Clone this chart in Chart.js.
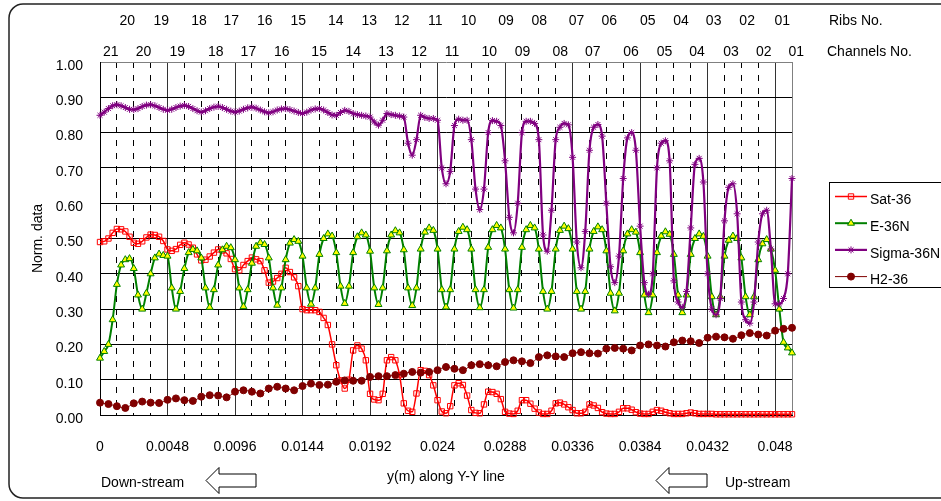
<!DOCTYPE html>
<html lang="en">
<head>
  <meta charset="UTF-8" />
  <title>Norm. data along Y-Y line</title>
  <script src="https://cdn.jsdelivr.net/npm/chart.js"></script>
  <style>
    html, body { margin: 0; padding: 0; background: #fff; overflow: hidden; }
    #wrap { width: 941px; height: 501px; }
  </style>
</head>
<body>
  <div id="wrap"><canvas id="chart" width="941" height="501"></canvas></div>
  <script>
    // positions along the Y-Y line (m)
    const yPos = [
      0, 0.0003, 0.0006, 0.0009, 0.0012, 0.0015, 0.0018, 0.0021,
      0.0024, 0.0027, 0.0030, 0.0033, 0.0036, 0.0039, 0.0042, 0.0045,
      0.0048, 0.0051, 0.0054, 0.0057, 0.0060, 0.0063, 0.0066, 0.0069,
      0.0072, 0.0075, 0.0078, 0.0081, 0.0084, 0.0087, 0.0090, 0.0093,
      0.0096, 0.0099, 0.0102, 0.0105, 0.0108, 0.0111, 0.0114, 0.0117,
      0.0120, 0.0123, 0.0126, 0.0129, 0.0132, 0.0135, 0.0138, 0.0141,
      0.0144, 0.0147, 0.0150, 0.0153, 0.0156, 0.0159, 0.0162, 0.0165,
      0.0168, 0.0171, 0.0174, 0.0177, 0.0180, 0.0183, 0.0186, 0.0189,
      0.0192, 0.0195, 0.0198, 0.0201, 0.0204, 0.0207, 0.0210, 0.0213,
      0.0216, 0.0219, 0.0222, 0.0225, 0.0228, 0.0231, 0.0234, 0.0237,
      0.0240, 0.0243, 0.0246, 0.0249, 0.0252, 0.0255, 0.0258, 0.0261,
      0.0264, 0.0267, 0.0270, 0.0273, 0.0276, 0.0279, 0.0282, 0.0285,
      0.0288, 0.0291, 0.0294, 0.0297, 0.0300, 0.0303, 0.0306, 0.0309,
      0.0312, 0.0315, 0.0318, 0.0321, 0.0324, 0.0327, 0.0330, 0.0333,
      0.0336, 0.0339, 0.0342, 0.0345, 0.0348, 0.0351, 0.0354, 0.0357,
      0.0360, 0.0363, 0.0366, 0.0369, 0.0372, 0.0375, 0.0378, 0.0381,
      0.0384, 0.0387, 0.0390, 0.0393, 0.0396, 0.0399, 0.0402, 0.0405,
      0.0408, 0.0411, 0.0414, 0.0417, 0.0420, 0.0423, 0.0426, 0.0429,
      0.0432, 0.0435, 0.0438, 0.0441, 0.0444, 0.0447, 0.0450, 0.0453,
      0.0456, 0.0459, 0.0462, 0.0465, 0.0468, 0.0471, 0.0474, 0.0477,
      0.0480, 0.0483, 0.0486, 0.0489, 0.0492
    ];

    const satVals = [
      0.490, 0.492, 0.500, 0.516, 0.527, 0.526, 0.520, 0.505,
      0.488, 0.485, 0.492, 0.503, 0.511, 0.510, 0.505, 0.493,
      0.469, 0.465, 0.470, 0.482, 0.488, 0.483, 0.474, 0.455,
      0.438, 0.440, 0.449, 0.460, 0.469, 0.466, 0.458, 0.442,
      0.413, 0.410, 0.425, 0.436, 0.446, 0.441, 0.436, 0.410,
      0.375, 0.378, 0.388, 0.400, 0.417, 0.405, 0.390, 0.365,
      0.300, 0.297, 0.297, 0.297, 0.292, 0.275, 0.255, 0.200,
      0.141, 0.098, 0.075, 0.100, 0.183, 0.197, 0.188, 0.155,
      0.060, 0.044, 0.042, 0.060, 0.155, 0.164, 0.155, 0.113,
      0.033, 0.012, 0.009, 0.061, 0.127, 0.125, 0.113, 0.084,
      0.042, 0.010, 0.005, 0.025, 0.084, 0.090, 0.085, 0.055,
      0.014, 0.006, 0.005, 0.030, 0.066, 0.065, 0.060, 0.045,
      0.009, 0.004, 0.003, 0.012, 0.042, 0.042, 0.032, 0.018,
      0.007, 0.003, 0.003, 0.012, 0.033, 0.035, 0.030, 0.022,
      0.014, 0.005, 0.005, 0.009, 0.030, 0.027, 0.020, 0.008,
      0.004, 0.003, 0.003, 0.009, 0.019, 0.019, 0.015, 0.008,
      0.004, 0.003, 0.003, 0.009, 0.014, 0.012, 0.008, 0.005,
      0.003, 0.003, 0.003, 0.005, 0.007, 0.005, 0.003, 0.003,
      0.003, 0.003, 0.002, 0.002, 0.002, 0.002, 0.002, 0.002,
      0.002, 0.002, 0.002, 0.002, 0.002, 0.002, 0.002, 0.002,
      0.002, 0.002, 0.002, 0.002, 0.002
    ];

    const eVals = [
      0.161, 0.180, 0.200, 0.270, 0.370, 0.425, 0.440, 0.443,
      0.415, 0.340, 0.300, 0.345, 0.400, 0.445, 0.456, 0.452,
      0.450, 0.360, 0.300, 0.350, 0.415, 0.460, 0.469, 0.465,
      0.445, 0.360, 0.305, 0.355, 0.425, 0.468, 0.478, 0.474,
      0.440, 0.360, 0.307, 0.355, 0.430, 0.478, 0.488, 0.483,
      0.445, 0.360, 0.311, 0.360, 0.440, 0.487, 0.497, 0.492,
      0.450, 0.360, 0.314, 0.360, 0.455, 0.500, 0.513, 0.507,
      0.460, 0.365, 0.316, 0.365, 0.460, 0.505, 0.516, 0.510,
      0.464, 0.360, 0.313, 0.360, 0.465, 0.510, 0.522, 0.516,
      0.468, 0.360, 0.310, 0.360, 0.470, 0.518, 0.530, 0.523,
      0.470, 0.355, 0.306, 0.355, 0.470, 0.520, 0.532, 0.525,
      0.470, 0.355, 0.304, 0.355, 0.475, 0.525, 0.537, 0.530,
      0.470, 0.355, 0.303, 0.355, 0.475, 0.525, 0.537, 0.530,
      0.470, 0.350, 0.300, 0.350, 0.470, 0.523, 0.535, 0.528,
      0.470, 0.350, 0.300, 0.350, 0.470, 0.520, 0.533, 0.525,
      0.465, 0.345, 0.295, 0.345, 0.465, 0.513, 0.525, 0.518,
      0.460, 0.340, 0.290, 0.340, 0.460, 0.507, 0.519, 0.512,
      0.455, 0.340, 0.290, 0.340, 0.455, 0.500, 0.513, 0.506,
      0.450, 0.335, 0.284, 0.335, 0.450, 0.495, 0.507, 0.500,
      0.445, 0.335, 0.284, 0.335, 0.440, 0.485, 0.497, 0.470,
      0.410, 0.300, 0.206, 0.190, 0.176
    ];

    const sigmaVals = [
      0.849, 0.858, 0.868, 0.876, 0.879, 0.876, 0.871, 0.866,
      0.865, 0.868, 0.874, 0.878, 0.879, 0.876, 0.871, 0.866,
      0.863, 0.866, 0.871, 0.875, 0.877, 0.874, 0.868, 0.862,
      0.858, 0.862, 0.868, 0.872, 0.874, 0.871, 0.866, 0.861,
      0.858, 0.861, 0.866, 0.870, 0.872, 0.869, 0.864, 0.859,
      0.856, 0.859, 0.864, 0.867, 0.868, 0.865, 0.861, 0.857,
      0.854, 0.858, 0.864, 0.867, 0.868, 0.864, 0.857, 0.850,
      0.849, 0.857, 0.863, 0.860, 0.854, 0.851, 0.849, 0.847,
      0.844, 0.830, 0.821, 0.835, 0.854, 0.851, 0.849, 0.847,
      0.844, 0.770, 0.736, 0.780, 0.849, 0.843, 0.840, 0.840,
      0.835, 0.700, 0.655, 0.690, 0.820, 0.838, 0.835, 0.835,
      0.780, 0.640, 0.582, 0.640, 0.800, 0.834, 0.832, 0.820,
      0.720, 0.560, 0.516, 0.600, 0.800, 0.832, 0.832, 0.826,
      0.780, 0.510, 0.464, 0.580, 0.780, 0.815, 0.826, 0.822,
      0.730, 0.490, 0.417, 0.520, 0.750, 0.815, 0.823, 0.790,
      0.600, 0.420, 0.375, 0.450, 0.670, 0.785, 0.800, 0.750,
      0.535, 0.375, 0.342, 0.400, 0.700, 0.770, 0.777, 0.720,
      0.380, 0.320, 0.305, 0.350, 0.530, 0.710, 0.727, 0.660,
      0.400, 0.300, 0.284, 0.330, 0.550, 0.645, 0.655, 0.570,
      0.320, 0.270, 0.260, 0.320, 0.490, 0.570, 0.580, 0.470,
      0.315, 0.315, 0.330, 0.400, 0.670
    ];

    // H2 is sampled on every second position
    const h2Vals = [
      0.035, 0.031, 0.025, 0.020, 0.033, 0.038, 0.035, 0.034,
      0.043, 0.047, 0.042, 0.040, 0.052, 0.056, 0.055, 0.050,
      0.066, 0.070, 0.066, 0.061, 0.075, 0.080, 0.075, 0.070,
      0.082, 0.089, 0.085, 0.086, 0.094, 0.098, 0.097, 0.097,
      0.108, 0.110, 0.110, 0.113, 0.117, 0.122, 0.120, 0.122,
      0.127, 0.136, 0.131, 0.127, 0.141, 0.144, 0.141, 0.138,
      0.150, 0.155, 0.152, 0.147, 0.164, 0.169, 0.166, 0.164,
      0.175, 0.178, 0.175, 0.174, 0.188, 0.190, 0.188, 0.183,
      0.197, 0.200, 0.197, 0.194, 0.206, 0.211, 0.209, 0.204,
      0.219, 0.222, 0.220, 0.216, 0.226, 0.232, 0.228, 0.225,
      0.239, 0.244, 0.247
    ];
    const h2Pos = yPos.filter((_, i) => i % 2 === 0);

    const xTickLabels = ['0', '0.0048', '0.0096', '0.0144', '0.0192', '0.024',
                         '0.0288', '0.0336', '0.0384', '0.0432', '0.048'];

    const ribNos = ['20', '19', '18', '17', '16', '15', '14', '13', '12', '11',
                    '10', '09', '08', '07', '06', '05', '04', '03', '02', '01'];
    const ribPos = [0.00194, 0.00436, 0.00704, 0.00934, 0.01172, 0.01409, 0.01677,
                    0.01914, 0.02146, 0.02383, 0.02620, 0.02886, 0.03123, 0.03388,
                    0.03621, 0.03894, 0.04131, 0.04363, 0.04601, 0.04851];

    const channelNos = ['21', '20', '19', '18', '17', '16', '15', '14', '13', '12', '11',
                        '10', '09', '08', '07', '06', '05', '04', '03', '02', '01'];
    const channelPos = [0.00076, 0.00309, 0.00550, 0.00823, 0.01055, 0.01293, 0.01558,
                        0.01800, 0.02033, 0.02269, 0.02502, 0.02767, 0.03004, 0.03273,
                        0.03503, 0.03775, 0.04013, 0.04245, 0.04487, 0.04719, 0.04950];

    const FONT_FAMILY = '"Liberation Sans", Arial, sans-serif';
    const FONT = '14px ' + FONT_FAMILY;

    function toPoints(xs, ys) {
      return ys.map((v, i) => ({ x: xs[i], y: v }));
    }

    function isMajorX(v) {
      const q = v / 0.0048;
      return Math.abs(q - Math.round(q)) < 1e-6;
    }

    function roundedRect(c, x, y, w, h, r) {
      c.beginPath();
      c.moveTo(x + r, y);
      c.lineTo(x + w - r, y);
      c.arcTo(x + w, y, x + w, y + r, r);
      c.lineTo(x + w, y + h - r);
      c.arcTo(x + w, y + h, x + w - r, y + h, r);
      c.lineTo(x + r, y + h);
      c.arcTo(x, y + h, x, y + h - r, r);
      c.lineTo(x, y + r);
      c.arcTo(x, y, x + r, y, r);
      c.closePath();
    }

    function drawArrow(c, tipX, midY, headX, endX) {
      c.beginPath();
      c.moveTo(tipX, midY);
      c.lineTo(headX, midY - 13);
      c.lineTo(headX, midY - 6.5);
      c.lineTo(endX, midY - 6.5);
      c.lineTo(endX, midY + 6.5);
      c.lineTo(headX, midY + 6.5);
      c.lineTo(headX, midY + 13);
      c.closePath();
      c.fillStyle = '#fff';
      c.fill();
      c.strokeStyle = '#000';
      c.lineWidth = 1;
      c.stroke();
    }

    const decorations = {
      id: 'decorations',
      beforeDraw(chart) {
        const c = chart.ctx;
        c.save();
        c.fillStyle = '#fff';
        c.fillRect(0, 0, chart.width, chart.height);
        c.strokeStyle = '#222';
        c.lineWidth = 1.5;
        roundedRect(c, 9, 4, 990, 494, 14);
        c.stroke();
        c.restore();
      },
      afterDraw(chart) {
        const c = chart.ctx;
        const xs = chart.scales.x;
        const area = chart.chartArea;
        c.save();
        c.font = FONT;
        c.fillStyle = '#000';
        c.textBaseline = 'middle';

        c.textAlign = 'center';
        ribNos.forEach((t, i) => c.fillText(t, xs.getPixelForValue(ribPos[i]), 21));
        channelNos.forEach((t, i) => c.fillText(t, xs.getPixelForValue(channelPos[i]), 52));

        c.textAlign = 'left';
        c.fillText('Ribs No.', area.right + 37, 21);
        c.fillText('Channels No.', area.right + 35, 52);
        c.fillText('Down-stream', area.left + 1, 483);
        c.fillText('Up-stream', 725, 483);

        drawArrow(c, 206, 480.5, 219, 256);
        drawArrow(c, 656, 480.5, 669, 707);

        // legend box
        c.strokeStyle = '#000';
        c.lineWidth = 1;
        c.strokeRect(829.5, 182.5, 140, 105);
        chart.data.datasets.forEach((ds, i) => {
          const ly = 196.5 + i * 26.7;
          c.strokeStyle = ds.borderColor;
          c.lineWidth = ds.borderWidth;
          c.beginPath();
          c.moveTo(835, ly);
          c.lineTo(867, ly);
          c.stroke();
          c.fillStyle = ds.pointBackgroundColor;
          c.strokeStyle = ds.pointBorderColor;
          c.lineWidth = ds.pointBorderWidth;
          Chart.helpers.drawPoint(c, {
            pointStyle: ds.pointStyle, radius: ds.pointRadius,
            rotation: 0, borderWidth: ds.pointBorderWidth
          }, 851, ly);
          c.fillStyle = '#000';
          c.font = FONT;
          c.fillText(ds.label, 870, ly + 4);
        });
        c.restore();
      }
    };

    new Chart(document.getElementById('chart'), {
      type: 'line',
      data: {
        datasets: [
          {
            label: 'Sat-36',
            data: toPoints(yPos, satVals),
            borderColor: '#FF0000',
            borderWidth: 1.5,
            pointStyle: 'rect',
            pointRadius: 3.8,
            pointBorderColor: '#FF0000',
            pointBackgroundColor: 'rgba(255,255,255,0)',
            pointBorderWidth: 1,
            order: 4
          },
          {
            label: 'E-36N',
            data: toPoints(yPos, eVals),
            borderColor: '#008000',
            borderWidth: 2,
            pointStyle: 'triangle',
            pointRadius: 4,
            pointBorderColor: '#008000',
            pointBackgroundColor: '#FFFF00',
            pointBorderWidth: 1,
            order: 3
          },
          {
            label: 'Sigma-36N',
            data: toPoints(yPos, sigmaVals),
            borderColor: '#800080',
            borderWidth: 2.2,
            pointStyle: 'star',
            pointRadius: 3.5,
            pointBorderColor: '#800080',
            pointBackgroundColor: '#800080',
            pointBorderWidth: 1,
            order: 2
          },
          {
            label: 'H2-36',
            data: toPoints(h2Pos, h2Vals),
            borderColor: '#800000',
            borderWidth: 1,
            pointStyle: 'circle',
            pointRadius: 3.5,
            pointBorderColor: '#800000',
            pointBackgroundColor: '#800000',
            pointBorderWidth: 1,
            order: 1
          }
        ]
      },
      options: {
        responsive: false,
        animation: false,
        events: [],
        layout: { padding: { left: 0, right: 149, top: 62, bottom: 0 } },
        elements: { line: { cubicInterpolationMode: 'monotone' } },
        datasets: { line: { clip: false } },
        plugins: {
          legend: { display: false },
          tooltip: { enabled: false }
        },
        scales: {
          x: {
            type: 'linear',
            min: 0,
            max: 0.0492,
            afterFit(scale) { scale.height = 86; },
            ticks: {
              stepSize: 0.0012,
              autoSkip: false,
              maxRotation: 0,
              padding: 24,
              color: '#000',
              font: { family: FONT_FAMILY, size: 14 },
              callback: (v, i) => (isMajorX(v) ? xTickLabels[Math.round(v / 0.0048)] : '')
            },
            grid: {
              drawTicks: false,
              lineWidth: 1,
              color: (ctx) => {
                if (!ctx.tick) return '#000';
                if (ctx.tick.value > 0.04915) return '#808080';
                return isMajorX(ctx.tick.value) ? '#333' : '#000';
              }
            },
            border: {
              color: '#000',
              dash: (ctx) => (ctx.tick && !isMajorX(ctx.tick.value) && ctx.tick.value < 0.04915) ? [6, 7] : []
            },
            title: {
              display: true,
              text: 'y(m) along Y-Y line',
              color: '#000',
              font: { family: FONT_FAMILY, size: 14 },
              padding: { top: 4, bottom: 15 }
            }
          },
          y: {
            min: 0,
            max: 1,
            afterFit(scale) { scale.width = 100; },
            ticks: {
              stepSize: 0.1,
              padding: 17,
              labelOffset: 4,
              color: '#000',
              font: { family: FONT_FAMILY, size: 14 },
              callback: (v) => v.toFixed(2)
            },
            grid: {
              drawTicks: false,
              lineWidth: 1,
              color: (ctx) => (ctx.tick && ctx.tick.value > 0.999 ? '#808080' : '#000')
            },
            border: { color: '#000' },
            title: {
              display: true,
              text: 'Norm. data',
              color: '#000',
              font: { family: FONT_FAMILY, size: 14 },
              padding: { top: 30, bottom: 0 }
            }
          }
        }
      },
      plugins: [decorations]
    });
  </script>
</body>
</html>
